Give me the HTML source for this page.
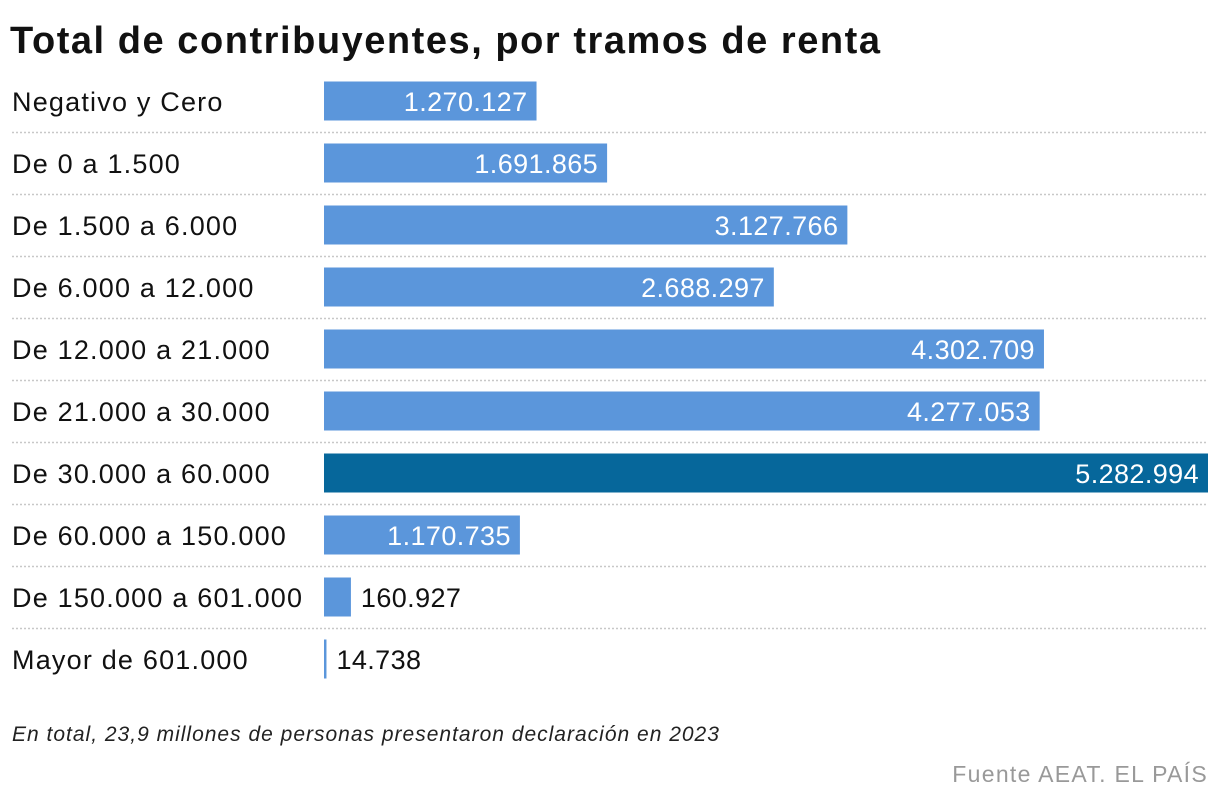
<!DOCTYPE html>
<html><head><meta charset="utf-8">
<style>
body{margin:0;background:#fff;width:1220px;height:804px;overflow:hidden;font-family:"Liberation Sans",sans-serif;}
svg{display:block}
</style></head>
<body>
<svg id="chart" width="1220" height="804">
<text x="10" y="53" font-size="38" font-weight="bold" fill="#111" textLength="870" lengthAdjust="spacing">Total de contribuyentes, por tramos de renta</text>
<g id="rows"></g>
<text x="12" y="741" font-size="21" font-style="italic" fill="#222" letter-spacing="1">En total, 23,9 millones de personas presentaron declaración en 2023</text>
<text x="1208" y="782" font-size="23" fill="#999" text-anchor="end" letter-spacing="1.3">Fuente AEAT. EL PAÍS</text>
</svg>
<script>
const categories=["Negativo y Cero","De 0 a 1.500","De 1.500 a 6.000","De 6.000 a 12.000","De 12.000 a 21.000","De 21.000 a 30.000","De 30.000 a 60.000","De 60.000 a 150.000","De 150.000 a 601.000","Mayor de 601.000"];
const values=[1270127,1691865,3127766,2688297,4302709,4277053,5282994,1170735,160927,14738];
const highlight=["De 30.000 a 60.000"];
const ns="http://www.w3.org/2000/svg";
const g=document.getElementById('rows');
const x0=324,x1=1208,yTop=101,step=62,bh=39;
const maxV=Math.max(...values);
const xs=v=>v/maxV*(x1-x0);
const fmt=v=>v.toString().replace(/\B(?=(\d{3})+(?!\d))/g,'.');
function mk(t,a){const e=document.createElementNS(ns,t);for(const k in a)e.setAttribute(k,a[k]);return e;}
categories.forEach((c,i)=>{
 const cy=yTop+i*step;
 const lab=mk('text',{x:12,y:cy+10,'font-size':27,fill:'#111','letter-spacing':1.2});
 lab.textContent=c;
 
 
 g.appendChild(lab);
 const w=Math.max(2,xs(values[i]));
 const r=mk('rect',{x:x0,y:cy-bh/2,width:w,height:bh,fill:highlight.includes(c)?'#06679b':'#5b96db'});
 
 
 g.appendChild(r);
 const inside=w>150;
 const t=mk('text',{x:inside?x0+w-9:x0+w+10,y:cy+10,'font-size':27,fill:inside?'#fff':'#111','text-anchor':inside?'end':'start','letter-spacing':'0.4'});
 t.textContent=fmt(values[i]);
 
 
 g.appendChild(t);
 if(i<categories.length-1){
  const l=mk('line',{x1:12,x2:1208,y1:cy+31.5,y2:cy+31.5,stroke:'#c8c8c8','stroke-width':1.5,'stroke-dasharray':'2 2'});
  
  
  g.appendChild(l);
 }
});
</script>
</body></html>
